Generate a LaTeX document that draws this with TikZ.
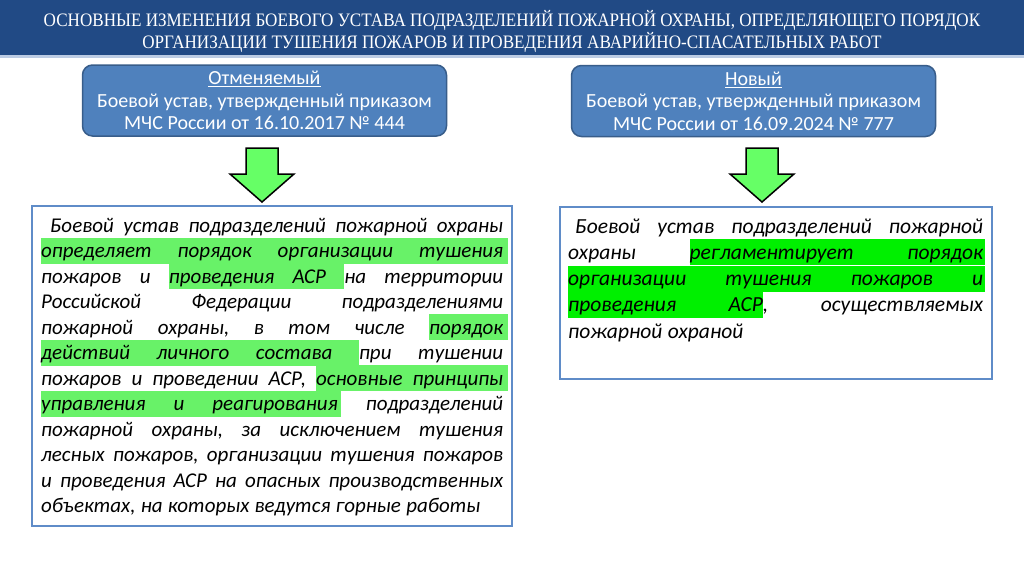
\documentclass[tikz,border=0pt]{standalone}
\usepackage{fontspec}
\setmainfont{Carlito}
\newfontfamily\titlefont{Liberation Serif}
\usetikzlibrary{positioning,calc}
\definecolor{hdrblue}{RGB}{33,74,133}
\definecolor{hdrline}{RGB}{188,204,228}
\definecolor{boxblue}{RGB}{79,129,189}
\definecolor{boxedge}{RGB}{56,93,138}
\definecolor{frameblue}{RGB}{95,140,200}
\definecolor{arrgreen}{RGB}{102,255,102}
\definecolor{hlsoft}{RGB}{104,242,104}
\definecolor{hlhard}{RGB}{0,240,0}

% highlighting inside justified lines
\newdimen\hlht \hlht=20pt
\newdimen\hldp \hldp=6pt
\newcommand{\gap}{\hskip 0.25em plus 1fil minus 0.12em}
\newcommand{\hgap}{{\color{hl}\leaders\hrule height\hlht depth\hldp\hskip 0.25em plus 1fil minus 0.12em}}
\newcommand{\hw}[1]{\setbox0\hbox{#1}\rlap{\color{hl}\rule[-\hldp]{\wd0}{\dimexpr\hlht+\hldp\relax}}\box0}
\newcommand{\htail}[1]{\rlap{\color{hl}\rule[-\hldp]{#1}{\dimexpr\hlht+\hldp\relax}}}
\newcommand{\jline}[1]{\hbox to \hsize{#1}}
\newcommand{\lastline}[1]{\hbox to \hsize{#1\hfill}}

\begin{document}
\begin{tikzpicture}[x=1pt,y=-1pt,
    topbox/.style={draw=boxedge,line width=1.5pt,fill=boxblue,rounded corners=10pt,
                   minimum width=364pt,minimum height=71pt,text=white,align=center,
                   font=\fontsize{20}{22.5}\selectfont,inner sep=0pt},
    framebox/.style={draw=frameblue,line width=2pt,inner sep=0pt},
    bodytext/.style={anchor=base west,inner sep=0pt,font=\itshape\fontsize{21}{25}\selectfont},
    garrow/.style={draw=black,line width=1.5pt,fill=arrgreen,line join=miter}]
  \useasboundingbox[fill=white] (0,0) rectangle (1024,574);
  % header
  \fill[hdrblue] (0,0) rectangle (1024,55);
  \fill[hdrline] (0,55) rectangle (1024,58);
  \node[text=white,align=center,inner sep=0pt,
        font=\titlefont\fontsize{19}{22}\selectfont] (title) at (512,31)
    {\scalebox{0.9}[1]{ОСНОВНЫЕ ИЗМЕНЕНИЯ БОЕВОГО УСТАВА ПОДРАЗДЕЛЕНИЙ ПОЖАРНОЙ ОХРАНЫ, ОПРЕДЕЛЯЮЩЕГО ПОРЯДОК}\\
     \scalebox{0.9}[1]{ОРГАНИЗАЦИИ ТУШЕНИЯ ПОЖАРОВ И ПРОВЕДЕНИЯ АВАРИЙНО-СПАСАТЕЛЬНЫХ РАБОТ}};
  % top boxes
  \node[topbox] (old) at (264.5,100.5)
    {\underline{Отменяемый}\\Боевой устав, утвержденный приказом\\МЧС России от 16.10.2017 № 444};
  \node[topbox] (new) at (753.5,101)
    {\underline{Новый}\\Боевой устав, утвержденный приказом\\МЧС России от 16.09.2024 № 777};
  % arrows
  \coordinate (oldarr) at (262,148);
  \coordinate (newarr) at (762,148);
  \foreach \c in {oldarr,newarr}
    \draw[garrow] (\c) ++(-16,0) -- ++(32,0) -- ++(0,26) -- ++(16,0)
      -- ++(-32,28) -- ++(-32,-28) -- ++(16,0) -- cycle;
  % text frames
  \node[framebox,minimum width=480pt,minimum height=320pt] (oldframe) at (272,366) {};
  \node[framebox,minimum width=432pt,minimum height=172pt] (newframe) at (776,293) {};
  % left text
  \node[bodytext] (oldbody) at (41,232) {\colorlet{hl}{hlsoft}%
    \vtop{\hsize=462pt\baselineskip=25.5pt\lineskip=0pt\lineskiplimit=-\maxdimen
      \jline{\kern9pt Боевой\gap устав\gap подразделений\gap пожарной\gap охраны}
      \jline{\hw{определяет}\hgap\hw{порядок}\hgap\hw{организации}\hgap\hw{тушения}\htail{5pt}}
      \jline{пожаров\gap и\gap \hw{проведения}\hgap\hw{АСР}\hgap на\gap территории}
      \jline{Российской\gap Федерации\gap подразделениями}
      \jline{пожарной\gap охраны,\gap в\gap том\gap числе\gap \hw{порядок}\htail{5pt}}
      \jline{\hw{действий}\hgap\hw{личного}\hgap\hw{состава}\hgap при\gap тушении}
      \jline{пожаров\gap и\gap проведении\gap АСР,\gap \hw{основные}\hgap\hw{принципы}\htail{5pt}}
      \jline{\hw{управления}\hgap\hw{и}\hgap\hw{реагирования}\htail{3pt}\gap подразделений}
      \jline{пожарной\gap охраны,\gap за\gap исключением\gap тушения}
      \jline{лесных\gap пожаров,\gap организации\gap тушения\gap пожаров}
      \jline{и\gap проведения\gap АСР\gap на\gap опасных\gap производственных}
      \lastline{объектах,\gap на\gap которых\gap ведутся\gap горные\gap работы}}};
  % right text
  \node[bodytext,font=\itshape\fontsize{21.5}{26}\selectfont] (newbody) at (568,233) {\colorlet{hl}{hlhard}%
    \vtop{\hsize=415pt\baselineskip=26.3pt\lineskip=0pt\lineskiplimit=-\maxdimen
      \jline{\kern7pt Боевой\gap устав\gap подразделений\gap пожарной}
      \jline{охраны\gap \hw{регламентирует}\hgap\hw{порядок}\htail{2pt}}
      \jline{\hw{организации}\hgap\hw{тушения}\hgap\hw{пожаров}\hgap\hw{и}\htail{2pt}}
      \jline{\hw{проведения}\hgap\hw{АСР},\gap осуществляемых}
      \lastline{пожарной\gap охраной}}};
\end{tikzpicture}
\end{document}
